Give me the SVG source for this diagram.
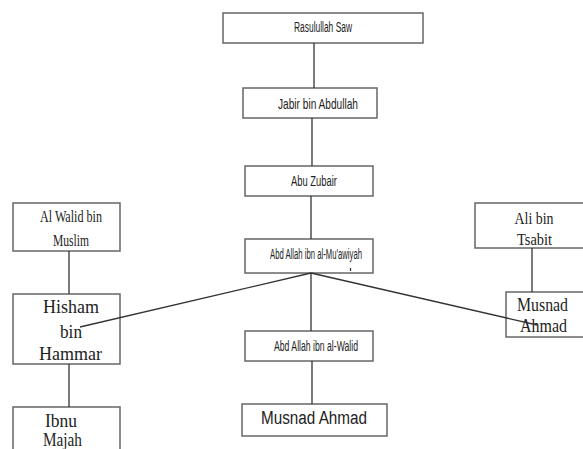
<svg xmlns="http://www.w3.org/2000/svg" width="583" height="449" viewBox="0 0 583 449">
<style>
.box{fill:#fff;stroke:#666;stroke-width:1.5}
.ln{stroke:#333;stroke-width:1.3;fill:none}
.s{font-family:"Liberation Sans",Arial,sans-serif;fill:#222;text-anchor:middle}
.t{font-family:"Liberation Serif","Times New Roman",serif;fill:#222;text-anchor:middle}
</style>
<rect width="583" height="449" fill="#fff"/>
<g id="rasulullah"><rect class="box" x="223" y="13" width="200" height="30"/><text class="s" x="323" y="32" font-size="14" textLength="58" lengthAdjust="spacingAndGlyphs">Rasulullah Saw</text></g>
<g id="jabir"><rect class="box" x="243" y="88" width="134" height="30"/><text class="s" x="318" y="109" font-size="15" textLength="80" lengthAdjust="spacingAndGlyphs">Jabir bin Abdullah</text></g>
<g id="abuzubair"><rect class="box" x="245" y="166" width="128" height="30"/><text class="s" x="314" y="186" font-size="14" textLength="46" lengthAdjust="spacingAndGlyphs">Abu Zubair</text></g>
<g id="muawiyah"><rect class="box" x="245" y="239" width="128" height="34"/><text class="s" x="316" y="259" font-size="14" textLength="92" lengthAdjust="spacingAndGlyphs">Abd Allah ibn al-Mu'awiyah</text></g>
<g id="walid"><rect class="box" x="245" y="331" width="128" height="30"/><text class="s" x="316" y="351" font-size="14" textLength="84" lengthAdjust="spacingAndGlyphs">Abd Allah ibn al-Walid</text></g>
<g id="musnad-center"><rect class="box" x="242" y="404" width="145" height="32"/><text class="s" x="314" y="424" font-size="18" textLength="106" lengthAdjust="spacingAndGlyphs">Musnad Ahmad</text></g>
<g id="alwalid"><rect class="box" x="13" y="203" width="107" height="48"/><text class="t" x="71" y="222" font-size="17" textLength="62" lengthAdjust="spacingAndGlyphs">Al Walid bin</text><text class="t" x="71" y="246" font-size="17" textLength="36" lengthAdjust="spacingAndGlyphs">Muslim</text></g>
<g id="hisham"><rect class="box" x="13" y="294" width="107" height="70"/><text class="t" x="71" y="313" font-size="19" textLength="56" lengthAdjust="spacingAndGlyphs">Hisham</text><text class="t" x="71" y="338" font-size="19" textLength="22" lengthAdjust="spacingAndGlyphs">bin</text><text class="t" x="70.5" y="360" font-size="19" textLength="63" lengthAdjust="spacingAndGlyphs">Hammar</text></g>
<g id="ibnumajah"><rect class="box" x="13" y="407" width="107" height="60"/><text class="t" x="61" y="427" font-size="19" textLength="32" lengthAdjust="spacingAndGlyphs">Ibnu</text><text class="t" x="62.5" y="446" font-size="19" textLength="39" lengthAdjust="spacingAndGlyphs">Majah</text></g>
<g id="alibintsabit"><rect class="box" x="475" y="203" width="112" height="45"/><text class="t" x="534" y="224" font-size="17" textLength="39" lengthAdjust="spacingAndGlyphs">Ali bin</text><text class="t" x="534.5" y="245" font-size="17" textLength="35" lengthAdjust="spacingAndGlyphs">Tsabit</text></g>
<g id="musnad-right"><rect class="box" x="506" y="292" width="81" height="45"/><text class="t" x="542.5" y="311" font-size="18" textLength="51" lengthAdjust="spacingAndGlyphs">Musnad</text><text class="t" x="543.5" y="332" font-size="18" textLength="47" lengthAdjust="spacingAndGlyphs">Ahmad</text></g>
<g id="connectors">
<line class="ln" x1="314" y1="43" x2="314" y2="88"/>
<line class="ln" x1="312" y1="118" x2="312" y2="166"/>
<line class="ln" x1="311" y1="196" x2="311" y2="239"/>
<line class="ln" x1="311" y1="273" x2="311" y2="331"/>
<line class="ln" x1="311" y1="273" x2="80" y2="327"/>
<line class="ln" x1="311" y1="273" x2="537" y2="325"/>
<line class="ln" x1="312" y1="361" x2="312" y2="404"/>
<line class="ln" x1="69" y1="251" x2="69" y2="294"/>
<line class="ln" x1="69" y1="364" x2="69" y2="407"/>
<line class="ln" x1="532" y1="248" x2="532" y2="292"/>
<line class="ln" x1="350.5" y1="268" x2="350.5" y2="271" stroke-width="1"/>
</g>
</svg>
